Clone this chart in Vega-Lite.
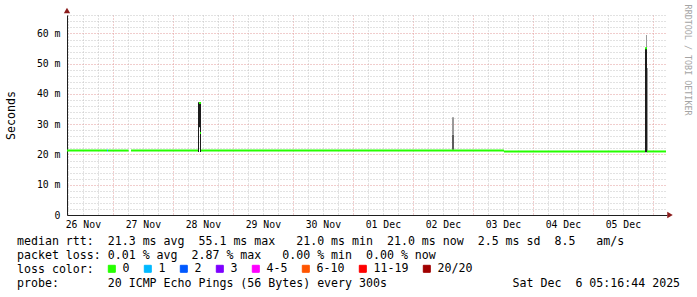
{
  "$schema": "https://vega.github.io/schema/vega-lite/v6.json",
  "width": 600,
  "height": 200,
  "autosize": {"type": "none"},
  "padding": {"left": 67, "top": 15, "right": 30, "bottom": 82},
  "background": "#ffffff",
  "config": {"view": {"stroke": null}, "font": "DejaVu Sans Mono"},
  "datasets": {
    "smoke": [
      {"start": "2025-11-28T10:04:00Z", "end": "2025-11-28T10:28:00Z", "lo": 20.8, "hi": 37.3, "band": "dense"},
      {"start": "2025-11-28T10:28:00Z", "end": "2025-11-28T10:52:00Z", "lo": 29.0, "hi": 37.3, "band": "dense"},
      {"start": "2025-11-28T10:52:00Z", "end": "2025-11-28T11:16:00Z", "lo": 20.8, "hi": 36.7, "band": "dense"},
      {"start": "2025-12-02T15:40:00Z", "end": "2025-12-02T16:28:00Z", "lo": 21.6, "hi": 26.5, "band": "medium"},
      {"start": "2025-12-02T15:40:00Z", "end": "2025-12-02T16:28:00Z", "lo": 26.5, "hi": 32.3, "band": "light"},
      {"start": "2025-12-05T20:52:00Z", "end": "2025-12-05T21:40:00Z", "lo": 20.7, "hi": 55.1, "band": "dense"},
      {"start": "2025-12-05T21:16:00Z", "end": "2025-12-05T21:40:00Z", "lo": 55.1, "hi": 59.5, "band": "light"},
      {"start": "2025-12-05T21:40:00Z", "end": "2025-12-05T22:04:00Z", "lo": 20.7, "hi": 48.6, "band": "light"}
    ],
    "medianline": [
      {"start": "2025-11-26T05:40:00Z", "end": "2025-11-26T21:40:00Z", "median": 21.3, "loss": "0"},
      {"start": "2025-11-26T21:40:00Z", "end": "2025-11-26T22:04:00Z", "median": 21.3, "loss": "1"},
      {"start": "2025-11-26T22:04:00Z", "end": "2025-11-27T06:20:00Z", "median": 21.3, "loss": "0"},
      {"start": "2025-11-27T07:16:00Z", "end": "2025-11-28T10:04:00Z", "median": 21.3, "loss": "0"},
      {"start": "2025-11-28T10:28:00Z", "end": "2025-11-28T11:16:00Z", "median": 37.0, "loss": "0"},
      {"start": "2025-11-28T10:52:00Z", "end": "2025-11-28T11:16:00Z", "median": 27.1, "loss": "0"},
      {"start": "2025-11-28T11:16:00Z", "end": "2025-12-03T12:28:00Z", "median": 21.3, "loss": "0"},
      {"start": "2025-12-03T12:28:00Z", "end": "2025-12-05T20:52:00Z", "median": 21.0, "loss": "0"},
      {"start": "2025-12-05T20:52:00Z", "end": "2025-12-05T21:40:00Z", "median": 55.1, "loss": "0"},
      {"start": "2025-12-05T21:40:00Z", "end": "2025-12-06T05:16:00Z", "median": 21.0, "loss": "0"}
    ]
  },
  "title": {
    "text": [
      "median\u00a0rtt:\u00a0\u00a021.3\u00a0ms\u00a0avg\u00a0\u00a055.1\u00a0ms\u00a0max\u00a0\u00a0\u00a021.0\u00a0ms\u00a0min\u00a0\u00a021.0\u00a0ms\u00a0now\u00a0\u00a02.5\u00a0ms\u00a0sd\u00a0\u00a08.5\u00a0\u00a0\u00a0am/s",
      "packet\u00a0loss:\u00a00.01\u00a0%\u00a0avg\u00a0\u00a02.87\u00a0%\u00a0max\u00a0\u00a0\u00a00.00\u00a0%\u00a0min\u00a0\u00a00.00\u00a0%\u00a0now",
      "loss\u00a0color:",
      "probe:\u00a0\u00a0\u00a0\u00a0\u00a0\u00a0\u00a020\u00a0ICMP\u00a0Echo\u00a0Pings\u00a0(56\u00a0Bytes)\u00a0every\u00a0300s\u00a0\u00a0\u00a0\u00a0\u00a0\u00a0\u00a0\u00a0\u00a0\u00a0\u00a0\u00a0\u00a0\u00a0\u00a0\u00a0\u00a0\u00a0Sat\u00a0Dec\u00a0\u00a06\u00a005:16:44\u00a02025"
    ],
    "orient": "bottom",
    "anchor": "start",
    "frame": "group",
    "font": "DejaVu Sans Mono",
    "fontSize": 11.6,
    "fontWeight": "normal",
    "color": "#000000",
    "lineHeight": 14,
    "dx": -50,
    "offset": -39,
    "baseline": "top"
  },
  "layer": [
    {
      "data": {"name": "smoke"},
      "mark": {"type": "bar"},
      "encoding": {
        "x": {
          "field": "start",
          "type": "temporal",
          "scale": {
            "type": "utc",
            "domain": [
              {"year": 2025, "month": 11, "date": 26, "hours": 5, "minutes": 40, "utc": true},
              {"year": 2025, "month": 12, "date": 6, "hours": 5, "minutes": 40, "utc": true}
            ]
          },
          "axis": {
            "title": null,
            "values": [1764136800000, 1764158400000, 1764180000000, 1764201600000, 1764223200000, 1764244800000, 1764266400000, 1764288000000, 1764309600000, 1764331200000, 1764352800000, 1764374400000, 1764396000000, 1764417600000, 1764439200000, 1764460800000, 1764482400000, 1764504000000, 1764525600000, 1764547200000, 1764568800000, 1764590400000, 1764612000000, 1764633600000, 1764655200000, 1764676800000, 1764698400000, 1764720000000, 1764741600000, 1764763200000, 1764784800000, 1764806400000, 1764828000000, 1764849600000, 1764871200000, 1764892800000, 1764914400000, 1764936000000, 1764957600000, 1764979200000],
            "tickCount": 200,
            "grid": true,
            "gridColor": {"condition": {"test": "utchours(datum.value) == 0", "value": "#e29a9a"}, "value": "#c4c4c4"},
            "gridDash": [1, 2],
            "gridWidth": 1,
            "ticks": false,
            "labelExpr": "utchours(datum.value) == 12 ? utcFormat(datum.value, '%d %b') : ''",
            "labelFont": "DejaVu Sans Mono",
            "labelFontSize": 9.8,
            "labelColor": "#000000",
            "labelPadding": 4,
            "labelOverlap": false,
            "labelFlush": false,
            "labelAngle": 0,
            "domainColor": "#1f1f1f",
            "domainWidth": 1
          }
        },
        "x2": {"field": "end"},
        "y": {
          "field": "lo",
          "type": "quantitative",
          "scale": {"domain": [0, 66.1], "nice": false},
          "axis": {
            "values": [0, 2, 4, 6, 8, 10, 12, 14, 16, 18, 20, 22, 24, 26, 28, 30, 32, 34, 36, 38, 40, 42, 44, 46, 48, 50, 52, 54, 56, 58, 60, 62, 64, 66],
            "tickCount": 200,
            "grid": true,
            "gridColor": {"condition": {"test": "datum.value % 10 == 0", "value": "#e29a9a"}, "value": "#c4c4c4"},
            "gridDash": [1, 2],
            "gridWidth": 1,
            "ticks": false,
            "labelExpr": "datum.value % 10 != 0 ? '' : (datum.value == 0 ? '0\u00a0\u00a0' : datum.value + '\u00a0m')",
            "labelFont": "DejaVu Sans Mono",
            "labelFontSize": 9.8,
            "labelColor": "#000000",
            "labelPadding": 7,
            "labelOverlap": false,
            "domainColor": "#1f1f1f",
            "domainWidth": 1,
            "title": "Seconds",
            "titleFont": "DejaVu Sans Mono",
            "titleFontSize": 11.6,
            "titleFontWeight": "normal",
            "titleColor": "#000000",
            "titleAngle": -90,
            "titleX": -56,
            "titleY": 100,
            "titleAlign": "center",
            "titleBaseline": "middle"
          }
        },
        "y2": {"field": "hi"},
        "fill": {
          "field": "band",
          "type": "nominal",
          "scale": {"domain": ["dense", "medium", "light"], "range": ["#1c1c1c", "#5e5e5e", "#9a9a9a"]},
          "legend": null
        }
      }
    },
    {
      "data": {"name": "medianline"},
      "mark": {"type": "rule", "strokeWidth": 2},
      "encoding": {
        "x": {"field": "start", "type": "temporal"},
        "x2": {"field": "end"},
        "y": {"field": "median", "type": "quantitative"},
        "color": {
          "field": "loss",
          "type": "nominal",
          "scale": {
            "domain": ["0", "1", "2", "3", "4-5", "6-10", "11-19", "20/20"],
            "range": ["#26ff00", "#00b8ff", "#0059ff", "#7e00ff", "#ff00ff", "#ff5500", "#ff0000", "#a10000"]
          },
          "legend": {
            "orient": "none",
            "legendX": 39,
            "legendY": 248,
            "direction": "horizontal",
            "title": null,
            "padding": 0,
            "gridAlign": "none",
            "columnPadding": 12,
            "symbolType": "square",
            "symbolSize": 49,
            "symbolStrokeWidth": 1,
            "symbolStrokeColor": "#000000",
            "labelFont": "DejaVu Sans Mono",
            "labelFontSize": 11.6,
            "labelColor": "#000000",
            "labelOffset": 5,
            "labelLimit": 200,
            "encode": {
              "symbols": {
                "update": {
                  "fill": {"scale": "color", "field": "value"},
                  "stroke": {"value": "#000000"},
                  "strokeWidth": {"value": 1},
                  "opacity": {"value": 1}
                }
              }
            }
          }
        }
      }
    },
    {
      "data": {"values": [{}]},
      "mark": {"type": "point", "shape": "triangle-right", "filled": true, "size": 40, "color": "#8b1c1c", "opacity": 1, "clip": false},
      "encoding": {
        "x": {"datum": {"year": 2025, "month": 12, "date": 6, "hours": 6, "minutes": 52, "utc": true}, "type": "temporal"},
        "y": {"datum": 0, "type": "quantitative"}
      }
    },
    {
      "data": {"values": [{}]},
      "mark": {"type": "point", "shape": "triangle-up", "filled": true, "size": 40, "color": "#8b1c1c", "opacity": 1, "clip": false},
      "encoding": {
        "x": {"datum": {"year": 2025, "month": 11, "date": 26, "hours": 5, "minutes": 40, "utc": true}, "type": "temporal"},
        "y": {"datum": 67.6, "type": "quantitative"}
      }
    },
    {
      "data": {"values": [{}]},
      "mark": {"type": "text", "text": "RRDTOOL / TOBI OETIKER", "angle": 90, "align": "center", "baseline": "middle", "font": "DejaVu Sans Mono", "fontSize": 8.4, "color": "#a4a4a4", "clip": false},
      "encoding": {
        "x": {"datum": {"year": 2025, "month": 12, "date": 6, "hours": 14, "minutes": 4, "utc": true}, "type": "temporal"},
        "y": {"datum": 51.2, "type": "quantitative"}
      }
    }
  ]
}
